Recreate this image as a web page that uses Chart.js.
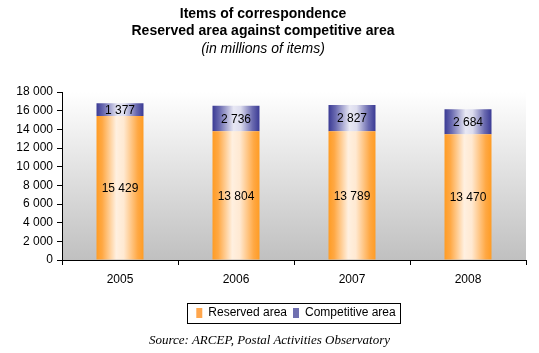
<!DOCTYPE html>
<html><head><meta charset="utf-8">
<script src="https://cdn.jsdelivr.net/npm/chart.js@4.4.0/dist/chart.umd.min.js"></script>
<style>
html,body{margin:0;padding:0;background:#fff;}
#wrap{position:relative;width:539px;height:353px;overflow:hidden;}
#c{display:block;}
#source{position:absolute;left:0;top:332px;width:539px;text-align:center;font:italic 13px "Liberation Serif","Times New Roman",serif;line-height:15px;color:#000;}
</style></head><body>
<div id="wrap"><canvas id="c" width="539" height="353"></canvas><div id="source"></div></div>
<script>
// ---- data ----
const categories = ['2005', '2006', '2007', '2008'];
const reservedArea = [15429, 13804, 13789, 13470];
const competitiveArea = [1377, 2736, 2827, 2684];
const seriesNames = ['Reserved area', 'Competitive area'];
const yTickValues = [0, 2000, 4000, 6000, 8000, 10000, 12000, 14000, 16000, 18000];
const titleLines = ['Items of correspondence', 'Reserved area against competitive area'];
const subtitleText = '(in millions of items)';
const sourceText = 'Source: ARCEP, Postal Activities Observatory';

document.getElementById('source').textContent = sourceText;

const FONT = '"Liberation Sans", Arial, sans-serif';
const BAR_PCT = 0.405;
const orangeStops = [[0,'#ff9c24'],[0.12,'#ffa843'],[0.42,'#fff0e0'],[0.58,'#ffe9d2'],[0.88,'#ffa843'],[1,'#ff9c24']];
const blueStops = [[0,'#3a3a94'],[0.15,'#6a6ab0'],[0.45,'#e8e8f4'],[0.6,'#dcdcee'],[0.85,'#6a6ab0'],[1,'#3a3a94']];
const legendColors = ['#ffa64d', '#7070b0'];

function fmt(v) { return String(v).replace(/\B(?=(\d{3})+(?!\d))/g, ' '); }

function barGradient(stops, fallback) {
  return function (ctx) {
    const chart = ctx.chart;
    const xs = chart.scales.x;
    if (ctx.type !== 'data' || !chart.chartArea || !xs) return fallback;
    const cx = xs.getPixelForValue(ctx.dataIndex);
    const w = xs.width / categories.length * BAR_PCT;
    if (!isFinite(cx) || !isFinite(w)) return fallback;
    const g = chart.ctx.createLinearGradient(cx - w / 2, 0, cx + w / 2, 0);
    stops.forEach(s => g.addColorStop(s[0], s[1]));
    return g;
  };
}

const plotBackground = {
  id: 'plotBackground',
  beforeDraw(chart) {
    const a = chart.chartArea; if (!a) return;
    const c = chart.ctx;
    const g = c.createLinearGradient(0, a.top, 0, a.bottom);
    g.addColorStop(0, '#ffffff');
    g.addColorStop(1, '#c0c0c0');
    c.save(); c.fillStyle = g; c.fillRect(a.left, a.top, a.right - a.left, a.bottom - a.top); c.restore();
  }
};

const valueLabels = {
  id: 'valueLabels',
  afterDatasetsDraw(chart) {
    const c = chart.ctx;
    c.save();
    c.font = '12px ' + FONT;
    c.fillStyle = '#000'; c.textAlign = 'center'; c.textBaseline = 'middle';
    chart.data.datasets.forEach((ds, i) => {
      chart.getDatasetMeta(i).data.forEach((el, j) => {
        const p = el.getProps(['x', 'y', 'base'], true);
        c.fillText(fmt(ds.data[j]), p.x, (p.y + p.base) / 2 + 1);
      });
    });
    c.restore();
  }
};

const LEGEND_DX = 33;
const legendBox = {
  id: 'legendBox',
  afterUpdate(chart) {
    const L = chart.legend; if (!L) return;
    L.left += LEGEND_DX; L.right += LEGEND_DX;
    (L.legendHitBoxes || []).forEach(h => { h.left += LEGEND_DX; });
  },
  afterDraw(chart) {
    const L = chart.legend; if (!L || !L.legendHitBoxes.length) return;
    const hb = L.legendHitBoxes;
    const left = Math.min(...hb.map(h => h.left));
    const right = Math.max(...hb.map(h => h.left + h.width));
    const top = hb[0].top, h = hb[0].height;
    const c = chart.ctx;
    c.save(); c.strokeStyle = '#000'; c.lineWidth = 1;
    c.strokeRect(Math.round(left - 9) + 0.5, Math.round(top - 4) + 0.5, Math.round(right - left + 14), Math.round(h + 8));
    c.restore();
  }
};

new Chart(document.getElementById('c'), {
  type: 'bar',
  data: {
    labels: categories,
    datasets: [
      { label: seriesNames[0], data: reservedArea, backgroundColor: barGradient(orangeStops, '#ffa64d'), borderWidth: 0 },
      { label: seriesNames[1], data: competitiveArea, backgroundColor: barGradient(blueStops, '#7070b0'), borderWidth: 0 }
    ]
  },
  options: {
    responsive: false,
    animation: false,
    devicePixelRatio: 1,
    layout: { padding: { left: 0, right: 13, top: 0, bottom: 24 } },
    datasets: { bar: { barPercentage: BAR_PCT, categoryPercentage: 1 } },
    scales: {
      x: {
        stacked: true,
        grid: { display: true, drawOnChartArea: false, drawTicks: true, tickLength: 5, color: '#000', offset: true },
        border: { display: true, color: '#000', width: 1 },
        ticks: { color: '#000', font: { family: FONT, size: 12 }, padding: 7 },
        afterFit(s) { s.height = 41; }
      },
      y: {
        stacked: true,
        min: 0, max: 18000,
        afterBuildTicks(s) { s.ticks = yTickValues.map(v => ({ value: v })); },
        grid: { display: true, drawOnChartArea: false, drawTicks: true, tickLength: 5, color: '#000' },
        border: { display: true, color: '#000', width: 1 },
        ticks: { color: '#000', font: { family: FONT, size: 12 }, padding: 4, callback: v => fmt(v) },
        afterFit(s) { s.width = 62; }
      }
    },
    plugins: {
      title: { display: true, text: titleLines, color: '#000', font: { family: FONT, size: 14, weight: 'bold', lineHeight: 17 / 14 }, padding: { top: 6, bottom: 1 } },
      subtitle: { display: true, text: subtitleText, color: '#000', font: { family: FONT, size: 14, style: 'italic', lineHeight: 17 / 14 }, padding: { top: 0, bottom: 34 } },
      legend: {
        position: 'bottom',
        labels: {
          color: '#000', font: { family: FONT, size: 12 }, boxWidth: 6, boxHeight: 10, padding: 6,
          generateLabels(chart) {
            return chart.data.datasets.map((ds, i) => ({ text: ds.label, fillStyle: legendColors[i], strokeStyle: legendColors[i], lineWidth: 0, datasetIndex: i, hidden: false }));
          }
        }
      },
      tooltip: { enabled: false }
    }
  },
  plugins: [plotBackground, valueLabels, legendBox]
});
</script>
</body></html>
